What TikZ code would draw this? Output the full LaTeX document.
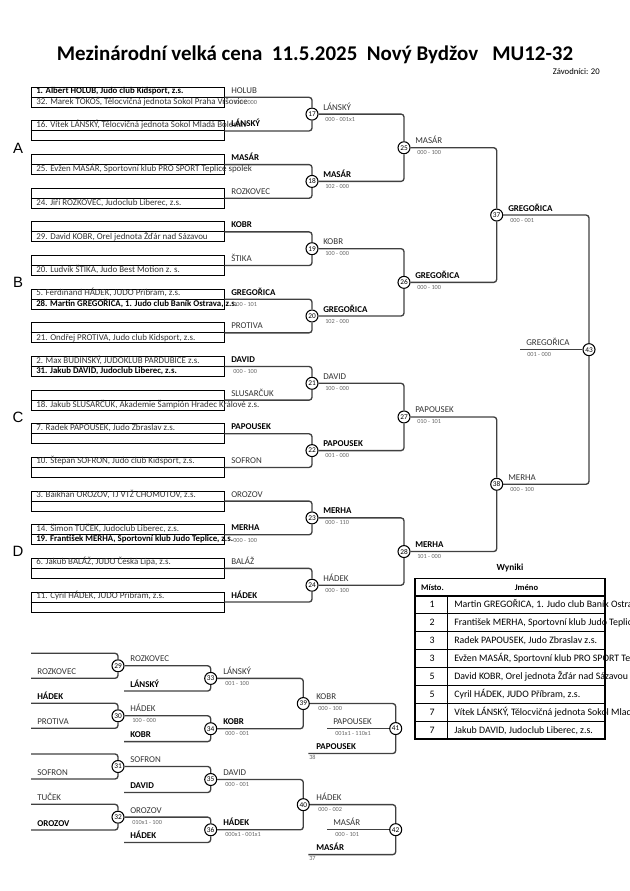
\documentclass[tikz,border=0pt]{standalone}
\usepackage{fontspec}
\setmainfont{Carlito}
\newfontfamily\arialfont{Liberation Sans}

\begin{document}
\begin{tikzpicture}[
    x=0.75pt, y=-0.75pt,
    slot/.style={draw=black, line width=0.7pt, minimum width=144.75pt, minimum height=15pt, inner sep=0pt},
    arm/.style={draw=black!75, line width=1pt, rounded corners=2.2pt},
    bout/.style={circle, draw=black, fill=white, line width=0.8pt, minimum size=9pt, inner sep=0pt, font=\fontsize{5.5}{6}\selectfont},
    entry/.style={anchor=base west, inner sep=0pt, font=\fontsize{6.7}{7}\selectfont, text=black!80},
    seed/.style={anchor=base west, inner sep=0pt, font=\fontsize{6.6}{7}\selectfont\bfseries},
    adv/.style={anchor=base west, inner sep=0pt, font=\fontsize{6.7}{8}\selectfont\bfseries},
    elim/.style={anchor=base west, inner sep=0pt, font=\fontsize{6.7}{8}\selectfont, text=black!80},
    score/.style={anchor=base west, inner sep=0pt, font=\fontsize{4.7}{5}\selectfont, text=black!60},
    pool/.style={anchor=base, inner sep=0pt, font=\arialfont\fontsize{11.2}{13}\selectfont},
    cell/.style={anchor=base, inner sep=0pt, font=\fontsize{7.4}{8}\selectfont},
    tabframe/.style={draw=black, line width=1.1pt},
    rowline/.style={draw=black, line width=0.7pt},
  ]

  \node[anchor=base, inner sep=0pt, font=\fontsize{15.7}{18}\selectfont\bfseries] (title) at (315,61)
    {Mezinárodní velká cena\ \ 11.5.2025\ \ Nový Bydžov\ \ \ MU12-32};
  \node[anchor=base east, inner sep=0pt, font=\fontsize{6.5}{7}\selectfont] (count) at (600,75) {Závodníci: 20};

  % First round boxes (two entries each)
  \node[slot] (b1) at (127.5,97.3) {};
  \node[slot] (b2) at (127.5,130.95) {};
  \node[slot] (b3) at (127.5,164.6) {};
  \node[slot] (b4) at (127.5,198.25) {};
  \node[slot] (b5) at (127.5,231.9) {};
  \node[slot] (b6) at (127.5,265.55) {};
  \node[slot] (b7) at (127.5,299.2) {};
  \node[slot] (b8) at (127.5,332.85) {};
  \node[slot] (b9) at (127.5,366.5) {};
  \node[slot] (b10) at (127.5,400.15) {};
  \node[slot] (b11) at (127.5,433.8) {};
  \node[slot] (b12) at (127.5,467.45) {};
  \node[slot] (b13) at (127.5,501.1) {};
  \node[slot] (b14) at (127.5,534.75) {};
  \node[slot] (b15) at (127.5,568.4) {};
  \node[slot] (b16) at (127.5,602.05) {};
  \draw[line width=0.7pt] (b1.west) -- (b1.east) (b2.west) -- (b2.east) (b3.west) -- (b3.east)
    (b4.west) -- (b4.east) (b5.west) -- (b5.east) (b6.west) -- (b6.east) (b7.west) -- (b7.east)
    (b8.west) -- (b8.east) (b9.west) -- (b9.east) (b10.west) -- (b10.east) (b11.west) -- (b11.east)
    (b12.west) -- (b12.east) (b13.west) -- (b13.east) (b14.west) -- (b14.east)
    (b15.west) -- (b15.east) (b16.west) -- (b16.east);

  \node[seed] (b1u) at (36,93.8) {1. Albert HOLUB, Judo club Kidsport, z.s.};
  \node[entry] (b1l) at (36,104.5) {32. Marek TOKOŠ, Tělocvičná jednota Sokol Praha Vršovice};
  \node[entry] (b2u) at (36,127.45) {16. Vítek LÁNSKÝ, Tělocvičná jednota Sokol Mladá Boleslav};
  \node[entry] (b3l) at (36,171.8) {25. Evžen MASÁR, Sportovní klub PRO SPORT Teplice spolek};
  \node[entry] (b4l) at (36,205.45) {24. Jiří ROZKOVEC, Judoclub Liberec, z.s.};
  \node[entry] (b5l) at (36,239.1) {29. David KOBR, Orel jednota Žďár nad Sázavou};
  \node[entry] (b6l) at (36,272.75) {20. Ludvík ŠTIKA, Judo Best Motion z. s.};
  \node[entry] (b7u) at (36,295.7) {5. Ferdinand HÁDEK, JUDO Příbram, z.s.};
  \node[seed] (b7l) at (36,306.4) {28. Martin GREGOŘICA, 1. Judo club Baník Ostrava, z.s.};
  \node[entry] (b8l) at (36,340.05) {21. Ondřej PROTIVA, Judo club Kidsport, z.s.};
  \node[entry] (b9u) at (36,363) {2. Max BUDINSKÝ, JUDOKLUB PARDUBICE z.s.};
  \node[seed] (b9l) at (36,373.7) {31. Jakub DAVID, Judoclub Liberec, z.s.};
  \node[entry] (b10l) at (36,407.35) {18. Jakub SLUSARČUK, Akademie Šampión Hradec Králové z.s.};
  \node[entry] (b11u) at (36,430.3) {7. Radek PAPOUSEK, Judo Zbraslav z.s.};
  \node[entry] (b12u) at (36,463.95) {10. Štěpán SOFRON, Judo club Kidsport, z.s.};
  \node[entry] (b13u) at (36,497.6) {3. Baikhan OROZOV, TJ VTŽ CHOMUTOV, z.s.};
  \node[entry] (b14u) at (36,531.25) {14. Šimon TUČEK, Judoclub Liberec, z.s.};
  \node[seed] (b14l) at (36,541.95) {19. František MERHA, Sportovní klub Judo Teplice, z.s.};
  \node[entry] (b15u) at (36,564.9) {6. Jakub BALÁŽ, JUDO Česká Lípa, z.s.};
  \node[entry] (b16u) at (36,598.55) {11. Cyril HÁDEK, JUDO Příbram, z.s.};

  \node[elim] (w1) at (231,93.3) {HOLUB};
  \node[adv] (w2) at (231,126.95) {LÁNSKÝ};
  \node[adv] (w3) at (231,160.6) {MASÁR};
  \node[elim] (w4) at (231,194.25) {ROZKOVEC};
  \node[adv] (w5) at (231,227.9) {KOBR};
  \node[elim] (w6) at (231,261.55) {ŠTIKA};
  \node[adv] (w7) at (231,295.2) {GREGOŘICA};
  \node[elim] (w8) at (231,328.85) {PROTIVA};
  \node[adv] (w9) at (231,362.5) {DAVID};
  \node[elim] (w10) at (231,396.15) {SLUSARČUK};
  \node[adv] (w11) at (231,429.8) {PAPOUSEK};
  \node[elim] (w12) at (231,463.45) {SOFRON};
  \node[elim] (w13) at (231,497.1) {OROZOV};
  \node[adv] (w14) at (231,530.75) {MERHA};
  \node[elim] (w15) at (231,564.4) {BALÁŽ};
  \node[adv] (w16) at (231,598.05) {HÁDEK};
  \node[score] (s1) at (233,104.6) {100 - 000};
  \node[score] (s7) at (233,306.5) {000 - 101};
  \node[score] (s9) at (233,373.8) {000 - 100};
  \node[score] (s14) at (233,542) {000 - 100};

  \node[pool] (grpA) at (18,153.05) {A};
  \node[pool] (grpB) at (18,287.65) {B};
  \node[pool] (grpC) at (18,422.25) {C};
  \node[pool] (grpD) at (18,556.85) {D};

  % Main bracket bouts
  \node[bout] (m17) at (312,114.1) {17};
  \node[bout] (m18) at (312,181.4) {18};
  \node[bout] (m19) at (312,248.7) {19};
  \node[bout] (m20) at (312,316.0) {20};
  \node[bout] (m21) at (312,383.3) {21};
  \node[bout] (m22) at (312,450.6) {22};
  \node[bout] (m23) at (312,517.9) {23};
  \node[bout] (m24) at (312,585.2) {24};
  \node[bout] (m25) at (404,147.75) {25};
  \node[bout] (m26) at (404,282.35) {26};
  \node[bout] (m27) at (404,416.95) {27};
  \node[bout] (m28) at (404,551.55) {28};
  \node[bout] (m37) at (496.7,215.05) {37};
  \node[bout] (m38) at (496.7,484.25) {38};
  \node[bout] (m43) at (589,349.65) {43};
  \coordinate (fin) at (520,349.65);

  \draw[arm] (b1.east) -| (m17.north) (b2.east) -| (m17.south);
  \draw[arm] (b3.east) -| (m18.north) (b4.east) -| (m18.south);
  \draw[arm] (b5.east) -| (m19.north) (b6.east) -| (m19.south);
  \draw[arm] (b7.east) -| (m20.north) (b8.east) -| (m20.south);
  \draw[arm] (b9.east) -| (m21.north) (b10.east) -| (m21.south);
  \draw[arm] (b11.east) -| (m22.north) (b12.east) -| (m22.south);
  \draw[arm] (b13.east) -| (m23.north) (b14.east) -| (m23.south);
  \draw[arm] (b15.east) -| (m24.north) (b16.east) -| (m24.south);
  \draw[arm] (m17.east) -| (m25.north) (m18.east) -| (m25.south);
  \draw[arm] (m19.east) -| (m26.north) (m20.east) -| (m26.south);
  \draw[arm] (m21.east) -| (m27.north) (m22.east) -| (m27.south);
  \draw[arm] (m23.east) -| (m28.north) (m24.east) -| (m28.south);
  \draw[arm] (m25.east) -| (m37.north) (m26.east) -| (m37.south);
  \draw[arm] (m27.east) -| (m38.north) (m28.east) -| (m38.south);
  \draw[arm] (m37.east) -| (m43.north) (m38.east) -| (m43.south);
  \draw[arm] (fin) -- (m43.west);

  \node[elim] (l17) at (323,110.1) {LÁNSKÝ};
  \node[score] (s17) at (325,121.1) {000 - 001x1};
  \node[adv] (l18) at (323,177.4) {MASÁR};
  \node[score] (s18) at (325,188.4) {102 - 000};
  \node[elim] (l19) at (323,244.7) {KOBR};
  \node[score] (s19) at (325,255.7) {100 - 000};
  \node[adv] (l20) at (323,312.0) {GREGOŘICA};
  \node[score] (s20) at (325,323.0) {102 - 000};
  \node[elim] (l21) at (323,379.3) {DAVID};
  \node[score] (s21) at (325,390.3) {100 - 000};
  \node[adv] (l22) at (323,446.6) {PAPOUSEK};
  \node[score] (s22) at (325,457.6) {001 - 000};
  \node[adv] (l23) at (323,513.9) {MERHA};
  \node[score] (s23) at (325,524.9) {000 - 110};
  \node[elim] (l24) at (323,581.2) {HÁDEK};
  \node[score] (s24) at (325,592.2) {000 - 100};
  \node[elim] (l25) at (415,143.75) {MASÁR};
  \node[score] (s25) at (417,154.75) {000 - 100};
  \node[adv] (l26) at (415,278.35) {GREGOŘICA};
  \node[score] (s26) at (417,289.35) {000 - 100};
  \node[elim] (l27) at (415,412.95) {PAPOUSEK};
  \node[score] (s27) at (417,423.95) {010 - 101};
  \node[adv] (l28) at (415,547.55) {MERHA};
  \node[score] (s28) at (417,558.55) {101 - 000};
  \node[adv] (l37) at (508,211.05) {GREGOŘICA};
  \node[score] (s37) at (510,222.05) {000 - 001};
  \node[elim] (l38) at (508,480.25) {MERHA};
  \node[score] (s38) at (510,491.25) {000 - 100};
  \node[elim] (l43) at (526,345.65) {GREGOŘICA};
  \node[score] (s43) at (527,356.65) {001 - 000};

  % Repechage
  \coordinate (r29t) at (31,653.3);
  \coordinate (r29b) at (31,678.3);
  \coordinate (r30t) at (31,703.3);
  \coordinate (r30b) at (31,728.3);
  \coordinate (r31t) at (31,754);
  \coordinate (r31b) at (31,779);
  \coordinate (r32t) at (31,804.3);
  \coordinate (r32b) at (31,830);
  \coordinate (r33b) at (124,691);
  \coordinate (r34b) at (124,741.6);
  \coordinate (r35b) at (124,792.5);
  \coordinate (r36b) at (124,842.5);
  \coordinate (r41b) at (308.3,753.55);
  \coordinate (r41m) at (327.3,728.55);
  \coordinate (r42b) at (308.3,854.65);
  \coordinate (r42m) at (327.3,829.65);

  \node[bout] (m29) at (118,665.8) {29};
  \node[bout] (m30) at (118,715.8) {30};
  \node[bout] (m31) at (118,766.5) {31};
  \node[bout] (m32) at (118,817.15) {32};
  \node[bout] (m33) at (210.7,678.4) {33};
  \node[bout] (m34) at (210.7,728.7) {34};
  \node[bout] (m35) at (210.7,779.5) {35};
  \node[bout] (m36) at (210.7,829.8) {36};
  \node[bout] (m39) at (303.3,703.55) {39};
  \node[bout] (m40) at (303.3,804.65) {40};
  \node[bout] (m41) at (395.7,728.55) {41};
  \node[bout] (m42) at (395.7,829.65) {42};

  \draw[arm] (r29t) -| (m29.north) (r29b) -| (m29.south);
  \draw[arm] (r30t) -| (m30.north) (r30b) -| (m30.south);
  \draw[arm] (r31t) -| (m31.north) (r31b) -| (m31.south);
  \draw[arm] (r32t) -| (m32.north) (r32b) -| (m32.south);
  \draw[arm] (m29.east) -| (m33.north) (r33b) -| (m33.south);
  \draw[arm] (m30.east) -| (m34.north) (r34b) -| (m34.south);
  \draw[arm] (m31.east) -| (m35.north) (r35b) -| (m35.south);
  \draw[arm] (m32.east) -| (m36.north) (r36b) -| (m36.south);
  \draw[arm] (m33.east) -| (m39.north) (m34.east) -| (m39.south);
  \draw[arm] (m35.east) -| (m40.north) (m36.east) -| (m40.south);
  \draw[arm] (m39.east) -| (m41.north) (r41b) -| (m41.south);
  \draw[arm] (m40.east) -| (m42.north) (r42b) -| (m42.south);
  \draw[arm] (r41m) -- (m41.west);
  \draw[arm] (r42m) -- (m42.west);

  \node[elim] (l29b) at (37,674.3) {ROZKOVEC};
  \node[elim] (l33a) at (130,661.8) {ROZKOVEC};
  \node[adv] (l33b) at (130,687) {LÁNSKÝ};
  \node[adv] (l30a) at (37,699.3) {HÁDEK};
  \node[elim] (l30b) at (37,724.3) {PROTIVA};
  \node[elim] (l34a) at (130,711.8) {HÁDEK};
  \node[score] (s34a) at (132,722.3) {100 - 000};
  \node[adv] (l34b) at (130,737.6) {KOBR};
  \node[elim] (l39a) at (223,674.4) {LÁNSKÝ};
  \node[score] (s39a) at (225,685.4) {001 - 100};
  \node[adv] (l39b) at (223,724.7) {KOBR};
  \node[score] (s39b) at (225,735.7) {000 - 001};
  \node[elim] (l31b) at (37,775) {SOFRON};
  \node[elim] (l35a) at (130,762.5) {SOFRON};
  \node[adv] (l35b) at (130,788.5) {DAVID};
  \node[elim] (l32a) at (37,800.3) {TUČEK};
  \node[adv] (l32b) at (37,826) {OROZOV};
  \node[elim] (l36a) at (130,813.15) {OROZOV};
  \node[score] (s36a) at (132,824) {010x1 - 100};
  \node[adv] (l36b) at (130,838.5) {HÁDEK};
  \node[elim] (l40a) at (223,775.5) {DAVID};
  \node[score] (s40a) at (225,786.5) {000 - 001};
  \node[adv] (l40b) at (223,825.8) {HÁDEK};
  \node[score] (s40b) at (225,836.8) {000x1 - 001x1};
  \node[elim] (l41a) at (316,699.5) {KOBR};
  \node[score] (s41a) at (318,710.5) {000 - 100};
  \node[elim] (l41m) at (333,724.5) {PAPOUSEK};
  \node[score] (s41m) at (335,735.5) {001x1 - 110x1};
  \node[adv] (l41b) at (316,749.5) {PAPOUSEK};
  \node[score] (f41) at (309,759.5) {38};
  \node[elim] (l42a) at (316,800.6) {HÁDEK};
  \node[score] (s42a) at (318,811.6) {000 - 002};
  \node[elim] (l42m) at (333,825.6) {MASÁR};
  \node[score] (s42m) at (335,836.6) {000 - 101};
  \node[adv] (l42b) at (316,850.6) {MASÁR};
  \node[score] (f42) at (309,860.6) {37};

  % Results table
  \node[cell, font=\fontsize{7}{8}\selectfont\bfseries] (wyniki) at (510,570) {Wyniki};
  \node[cell, font=\fontsize{6.4}{7}\selectfont\bfseries] (hplace) at (432.5,590) {Místo.};
  \node[cell, font=\fontsize{6.4}{7}\selectfont\bfseries] (hname) at (526.5,590) {Jméno};
  \node[cell] (p1) at (432,607.7) {1};
  \node[cell, anchor=base west] (n1) at (454,607.7) {Martin GREGOŘICA, 1. Judo club Baník Ostrava, z.s.};
  \node[cell] (p2) at (432,625.6) {2};
  \node[cell, anchor=base west] (n2) at (454,625.6) {František MERHA, Sportovní klub Judo Teplice, z.s.};
  \node[cell] (p3) at (432,643.5) {3};
  \node[cell, anchor=base west] (n3) at (454,643.5) {Radek PAPOUSEK, Judo Zbraslav z.s.};
  \node[cell] (p4) at (432,661.4) {3};
  \node[cell, anchor=base west] (n4) at (454,661.4) {Evžen MASÁR, Sportovní klub PRO SPORT Teplice spolek};
  \node[cell] (p5) at (432,679.3) {5};
  \node[cell, anchor=base west] (n5) at (454,679.3) {David KOBR, Orel jednota Žďár nad Sázavou};
  \node[cell] (p6) at (432,697.2) {5};
  \node[cell, anchor=base west] (n6) at (454,697.2) {Cyril HÁDEK, JUDO Příbram, z.s.};
  \node[cell] (p7) at (432,715.1) {7};
  \node[cell, anchor=base west] (n7) at (454,715.1) {Vítek LÁNSKÝ, Tělocvičná jednota Sokol Mladá Boleslav};
  \node[cell] (p8) at (432,733) {7};
  \node[cell, anchor=base west] (n8) at (454,733) {Jakub DAVID, Judoclub Liberec, z.s.};
  \draw[rowline] (415,613.9) -- (605,613.9) (415,631.8) -- (605,631.8) (415,649.7) -- (605,649.7)
    (415,667.6) -- (605,667.6) (415,685.5) -- (605,685.5) (415,703.4) -- (605,703.4)
    (415,721.3) -- (605,721.3) (447.7,596) -- (447.7,739.2);
  \draw[tabframe] (415,596) -- (605,596);
  \draw[tabframe] (415,578.3) rectangle (605,739.2);

  \pgfresetboundingbox
  \path[use as bounding box] (0,0) rectangle (630,891);
\end{tikzpicture}
\end{document}
